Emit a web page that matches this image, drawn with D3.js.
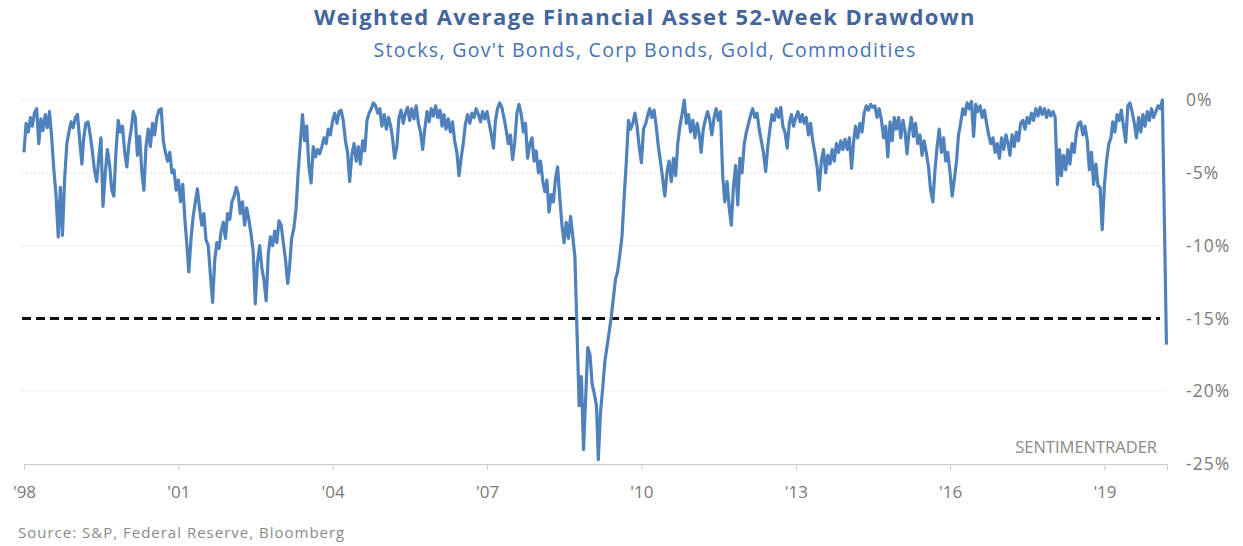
<!DOCTYPE html>
<html>
<head>
<meta charset="utf-8">
<script src="https://cdn.jsdelivr.net/npm/d3@7/dist/d3.min.js"></script>
<style>
  body { margin: 0; background: #fff; }
  text { font-family: "Open Sans", "DejaVu Sans", sans-serif; }
</style>
</head>
<body>
<script>
// semi-monthly readings (1st and 16th of each month), % drawdown
var dd1998 = [-3.6,-1.6,-2.2,-1.2,-1.8,-0.9,-0.6,-3.0,-1.3,-2.1,-1.0,-1.9,-0.8,-2.5,-4.8,-6.5,-9.4,-6.0,-9.3,-5.5,-3.0,-2.2,-1.5,-1.9];
var dd1999 = [-1.2,-1.0,-2.8,-4.4,-2.6,-1.6,-1.5,-2.4,-3.5,-4.8,-5.6,-4.0,-2.6,-7.3,-5.0,-3.4,-4.5,-6.2,-6.6,-3.5,-1.4,-2.2,-1.8,-3.5];
var dd2000 = [-4.6,-3.0,-2.0,-0.8,-1.2,-3.8,-2.5,-4.9,-6.2,-3.2,-2.0,-3.2,-1.6,-2.4,-1.2,-0.7,-0.6,-2.8,-3.6,-4.2,-3.6,-5.0,-4.8,-6.2];
var dd2001 = [-5.5,-7.0,-5.8,-8.2,-9.8,-11.8,-9.5,-8.0,-7.0,-6.1,-7.5,-8.6,-7.8,-9.6,-10.0,-12.0,-13.9,-11.0,-9.8,-10.2,-9.0,-8.4,-9.5,-7.8];
var dd2002 = [-8.2,-7.0,-6.6,-6.0,-6.4,-7.8,-7.0,-8.6,-7.4,-8.2,-9.2,-10.4,-14.0,-11.2,-10.0,-11.5,-12.4,-13.8,-10.6,-9.4,-10.0,-9.0,-9.8,-8.3];
var dd2003 = [-8.6,-9.8,-11.0,-12.6,-11.5,-9.5,-8.8,-7.5,-5.0,-3.0,-1.0,-2.8,-1.8,-4.5,-5.7,-3.2,-3.9,-3.4,-3.7,-3.2,-2.6,-3.0,-2.0,-2.4];
var dd2004 = [-1.4,-0.9,-1.6,-0.8,-0.7,-1.4,-2.8,-3.6,-5.6,-3.8,-3.0,-4.2,-3.2,-4.4,-2.8,-3.5,-1.4,-0.9,-0.6,-0.2,-0.4,-0.9,-0.6,-1.8];
var dd2005 = [-1.0,-2.0,-1.2,-1.8,-2.6,-4.0,-3.2,-1.2,-0.7,-1.6,-0.9,-0.5,-1.4,-0.6,-1.3,-0.4,-1.6,-2.2,-3.4,-2.0,-0.8,-1.5,-0.6,-1.1];
var dd2006 = [-0.4,-1.2,-0.7,-1.8,-1.0,-2.0,-1.3,-2.2,-1.5,-2.8,-3.6,-5.2,-4.0,-3.0,-1.6,-1.0,-1.6,-0.9,-1.2,-0.6,-1.0,-1.5,-0.8,-1.3];
var dd2007 = [-0.8,-1.6,-2.4,-3.3,-1.5,-0.6,-0.2,-0.5,-1.2,-2.0,-3.0,-2.4,-4.1,-3.0,-0.9,-0.3,-1.0,-2.2,-1.6,-4.0,-3.0,-2.6,-4.2,-3.5];
var dd2008 = [-5.0,-4.2,-5.6,-6.3,-5.5,-7.7,-6.5,-7.0,-5.4,-4.6,-6.8,-8.6,-9.8,-8.4,-9.5,-8.0,-9.4,-10.8,-16.0,-21.0,-19.0,-24.0,-20.5,-17.0];
var dd2009 = [-17.5,-19.5,-20.2,-21.0,-24.7,-21.5,-19.8,-18.0,-17.0,-16.0,-14.9,-13.6,-12.3,-11.8,-10.6,-9.4,-6.6,-4.2,-1.4,-2.0,-1.6,-0.9,-1.8,-3.2];
var dd2010 = [-4.3,-2.0,-1.6,-1.0,-0.6,-1.2,-0.7,-1.8,-3.2,-4.2,-5.4,-6.6,-5.0,-4.2,-5.6,-4.0,-5.2,-3.0,-1.8,-1.0,0.0,-1.6,-1.0,-2.2];
var dd2011 = [-1.4,-2.6,-1.6,-2.4,-3.6,-2.0,-1.3,-0.8,-1.4,-2.4,-1.2,-0.6,-1.4,-0.8,-5.2,-7.0,-5.6,-7.4,-8.6,-6.0,-4.5,-7.2,-4.0,-5.0];
var dd2012 = [-3.0,-2.2,-1.6,-1.0,-0.6,-1.2,-0.9,-2.0,-2.8,-3.6,-4.9,-3.2,-2.0,-1.0,-1.4,-0.6,-1.2,-0.5,-1.8,-2.2,-3.3,-1.6,-1.0,-1.8];
var dd2013 = [-1.2,-0.8,-1.5,-1.0,-1.6,-1.2,-2.4,-1.6,-2.8,-3.6,-4.6,-6.2,-4.2,-3.4,-5.0,-3.8,-4.4,-3.4,-4.2,-3.0,-3.6,-2.8,-3.4,-2.7];
var dd2014 = [-3.4,-2.6,-4.7,-2.8,-1.8,-2.6,-1.6,-2.2,-0.9,-0.4,-0.7,-0.3,-0.5,-0.4,-1.2,-0.6,-1.4,-2.6,-1.8,-3.9,-1.5,-2.8,-1.2,-2.0];
var dd2015 = [-1.2,-2.6,-1.4,-2.2,-3.7,-2.2,-1.2,-2.5,-1.6,-3.0,-2.4,-3.8,-2.8,-3.6,-4.6,-6.2,-7.0,-4.8,-3.2,-2.0,-3.6,-2.6,-4.2,-3.6];
var dd2016 = [-5.0,-6.6,-5.4,-4.2,-2.4,-1.6,-0.6,-1.0,-0.2,-0.6,-0.1,-2.5,-0.3,-0.8,-0.4,-1.2,-0.7,-1.6,-2.4,-3.0,-2.6,-3.6,-3.0,-4.0];
var dd2017 = [-2.6,-3.4,-2.4,-3.0,-3.8,-2.4,-3.2,-2.2,-2.8,-1.6,-1.4,-2.0,-1.2,-1.6,-0.9,-1.4,-0.6,-1.1,-0.5,-1.0,-0.6,-1.2,-0.7,-1.1];
var dd2018 = [-0.8,-1.2,-5.8,-3.4,-5.2,-3.8,-4.8,-3.4,-4.4,-3.0,-3.6,-2.2,-1.6,-1.5,-2.4,-1.8,-2.8,-4.8,-3.6,-5.8,-4.4,-5.9,-6.0,-8.9];
var dd2019 = [-5.8,-4.2,-3.0,-2.6,-1.5,-2.2,-1.0,-1.4,-0.7,-1.8,-2.9,-0.4,-0.2,-0.8,-1.6,-2.6,-1.2,-2.2,-1.0,-1.8,-0.8,-1.4,-0.6,-1.2];
var dd2020 = [-0.8,-0.4,-0.6,0.0,-8.0,-16.8];

var years = [1998,1999,2000,2001,2002,2003,2004,2005,2006,2007,2008,2009,2010,2011,2012,2013,2014,2015,2016,2017,2018,2019,2020];
var yearly = [dd1998,dd1999,dd2000,dd2001,dd2002,dd2003,dd2004,dd2005,dd2006,dd2007,dd2008,dd2009,dd2010,dd2011,dd2012,dd2013,dd2014,dd2015,dd2016,dd2017,dd2018,dd2019,dd2020];

var yTicks = [0, -5, -10, -15, -20, -25];
var threshold = -15;

var title = "Weighted Average Financial Asset 52-Week Drawdown";
var subtitle = "Stocks, Gov't Bonds, Corp Bonds, Gold, Commodities";
var source = "Source: S&P, Federal Reserve, Bloomberg";

// build the series
var data = [];
years.forEach(function(yr, k) {
    yearly[k].forEach(function(v, i) {
        data.push({date: new Date(yr, Math.floor(i / 2), i % 2 ? 16 : 1), value: v});
    });
});

var width = 1243, height = 546;

var svg = d3.select("body").append("svg")
    .attr("width", width)
    .attr("height", height);

var x = d3.scaleTime()
    .domain([new Date(1998, 0, 1), new Date(2020, 2, 20)])
    .range([24, 1167]);

var y = d3.scaleLinear()
    .domain([-25, 0])
    .range([464, 100]);

// grid lines
svg.append("g")
    .selectAll("line")
    .data(yTicks.filter(function(d) { return d != -25 && d != threshold; }))
    .enter().append("line")
    .attr("x1", 22)
    .attr("x2", 1166)
    .attr("y1", function(d) { return y(d); })
    .attr("y2", function(d) { return y(d); })
    .style("stroke", "#e4e4e4")
    .style("stroke-dasharray", "2,2");

// right axis labels
var yAxis = svg.append("g")
    .attr("transform", "translate(1178,0)")
    .call(d3.axisRight(y).tickValues(yTicks).tickSize(0).tickPadding(8)
        .tickFormat(function(d) { return d + "%"; }));
yAxis.select(".domain").remove();
yAxis.selectAll("text")
    .style("font-size", "17.5px")
    .style("fill", "#7a7a7a")
    .style("letter-spacing", "1px");

// bottom axis
var xAxis = svg.append("g")
    .attr("transform", "translate(0," + y(-25) + ")")
    .call(d3.axisBottom(x).ticks(d3.timeYear.every(3)).tickSizeOuter(0).tickSize(6).tickPadding(16)
        .tickFormat(function(d) { return "'" + d3.timeFormat("%y")(d); }));
xAxis.select(".domain").style("stroke", "#c8c8c8");
xAxis.selectAll(".tick line").style("stroke", "#c8c8c8");
xAxis.selectAll("text")
    .style("font-size", "17px")
    .style("fill", "#7a7a7a");

// threshold line
svg.append("line")
    .attr("x1", 22)
    .attr("x2", 1160)
    .attr("y1", y(threshold))
    .attr("y2", y(threshold))
    .style("stroke", "#111")
    .style("stroke-width", 3)
    .style("stroke-dasharray", "9,5");

// drawdown line
var line = d3.line()
    .x(function(d) { return x(d.date); })
    .y(function(d) { return y(d.value); });

svg.append("path")
    .datum(data)
    .attr("d", line)
    .style("fill", "none")
    .style("stroke", "#4f81bd")
    .style("stroke-width", 3.2)
    .style("stroke-linejoin", "round");

// texts
svg.append("text")
    .attr("x", 645)
    .attr("y", 25)
    .attr("text-anchor", "middle")
    .style("font-size", "22px")
    .style("font-weight", "bold")
    .style("letter-spacing", "1.4px")
    .style("fill", "#42659c")
    .text(title);

svg.append("text")
    .attr("x", 645)
    .attr("y", 57)
    .attr("text-anchor", "middle")
    .style("font-size", "19.5px")
    .style("letter-spacing", "1.3px")
    .style("fill", "#4773b3")
    .text(subtitle);

svg.append("text")
    .attr("x", 1157)
    .attr("y", 453)
    .attr("text-anchor", "end")
    .style("font-size", "16.5px")
    .style("fill", "#8a8a8a")
    .text("SENTIMENTRADER");

svg.append("text")
    .attr("x", 18)
    .attr("y", 538)
    .style("font-size", "15px")
    .style("letter-spacing", "1px")
    .style("fill", "#8a8a8a")
    .text(source);
</script>
</body>
</html>
